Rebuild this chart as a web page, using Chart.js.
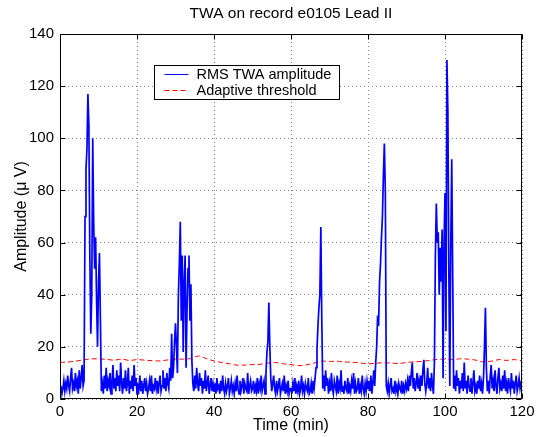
<!DOCTYPE html>
<html>
<head>
<meta charset="utf-8">
<title>TWA e0105</title>
<script src="https://cdn.jsdelivr.net/npm/chart.js@4.4.1/dist/chart.umd.min.js"></script>
<style>
  html, body { margin: 0; padding: 0; background: #fff; }
  canvas { display: block; }
</style>
</head>
<body>
<canvas id="twa" width="542" height="437"></canvas>
<script>
// RMS TWA amplitude, one sample every 0.25 min (one row = 5 min)
const sampleStep = 0.25;
const rmsTwa = [
  3, 5, 2, 4, 7, 3, 6, 4, 9, 5, 3, 8, 12, 4, 6, 3, 10, 5, 7, 2,
  11, 4, 8, 13, 5, 7, 70, 88, 96, 117, 105, 55, 25, 40, 100, 68, 50, 62, 38, 20,
  45, 56, 30, 3, 6, 2, 9, 4, 12, 3, 7, 5, 10, 2, 6, 13, 4, 8, 3, 11,
  5, 9, 3, 14, 6, 2, 8, 4, 11, 3, 6, 12, 2, 7, 4, 9, 3, 13, 5, 8,
  2, 6, 4, 9, 3, 7, 2, 5, 8, 3, 6, 2, 4, 7, 3, 9, 2, 5, 4, 8,
  4, 7, 2, 6, 9, 3, 5, 11, 4, 8, 3, 10, 6, 4, 12, 7, 25, 8, 12, 22,
  29, 20, 10, 40, 52, 68, 30, 55, 18, 45, 55, 12, 35, 50, 55, 30, 44, 15, 6, 3,
  9, 4, 12, 6, 3, 10, 5, 8, 2, 7, 4, 11, 3, 6, 9, 2, 5, 8, 3, 6,
  3, 6, 2, 8, 4, 5, 2, 7, 3, 9, 4, 2, 6, 3, 5, 8, 2, 4, 7, 3,
  5, 2, 6, 3, 9, 4, 2, 7, 3, 5, 8, 2, 6, 4, 3, 10, 2, 5, 7, 3,
  4, 7, 2, 5, 3, 8, 2, 6, 4, 9, 3, 5, 7, 2, 10, 18, 22, 37, 20, 8,
  3, 6, 9, 4, 2, 7, 3, 5, 8, 2, 4, 6, 3, 9, 2, 5, 3, 7, 2, 4,
  4, 2, 6, 3, 8, 2, 5, 3, 7, 2, 4, 9, 3, 5, 2, 6, 4, 3, 8, 2,
  3, 6, 2, 7, 4, 8, 12, 19, 28, 35, 40, 66, 30, 4, 9, 3, 11, 5, 8, 2,
  6, 3, 10, 4, 2, 7, 5, 3, 9, 2, 6, 4, 11, 3, 5, 2, 7, 4, 3, 8,
  2, 5, 3, 7, 4, 10, 2, 6, 3, 4, 8, 2, 5, 3, 9, 4, 2, 6, 3, 7,
  4, 7, 3, 9, 2, 6, 11, 5, 14, 20, 32, 28, 45, 52, 62, 70, 86, 98, 80, 5,
  3, 6, 2, 5, 8, 3, 4, 2, 7, 3, 5, 2, 6, 4, 3, 7, 2, 5, 3, 6,
  4, 7, 3, 9, 5, 10, 14, 4, 8, 3, 6, 10, 4, 7, 3, 9, 5, 11, 15, 6,
  3, 6, 12, 4, 8, 3, 10, 5, 2, 14, 55, 75, 60, 64, 40, 58, 45, 65, 8, 60,
  79, 26, 130, 110, 48, 5, 60, 92, 48, 4, 9, 3, 11, 5, 8, 2, 7, 4, 10, 3,
  14, 4, 7, 2, 9, 5, 3, 8, 2, 6, 11, 3, 5, 2, 7, 4, 9, 3, 6, 2,
  8, 20, 35, 12, 3, 7, 2, 9, 13, 4, 7, 3, 11, 5, 2, 8, 12, 4, 6, 3,
  9, 4, 11, 3, 6, 2, 8, 5, 3, 10, 4, 7, 2, 6, 9, 3, 5, 8, 4, 6,
  5
];

// adaptive threshold, every 2 min
const thrStep = 2;
const threshold = [
  14, 14.2, 14.5, 15, 15.4, 15.4, 15.2, 14.9, 15.3, 14.8,
  15.1, 14.9, 14.7, 14.6, 15, 15.3, 15.3, 15.5, 16.5, 15.5,
  14.6, 14, 13.5, 13, 13, 13.2, 13.3, 13.8, 14, 13.5,
  13.2, 12.8, 13.1, 13.8, 14.5, 14.4, 14.5, 14.2, 14.1, 13.8,
  13.5, 13.7, 13.9, 13.8, 13.6, 14, 14.3, 14.4, 14.8, 15.2,
  15.3, 15.2, 15.4, 15.3, 14.9, 14.2, 14.5, 15.1, 14.8, 15.1,
  14.6
];

const xTicks = [0, 20, 40, 60, 80, 100, 120];
const yTicks = [0, 20, 40, 60, 80, 100, 120, 140];

const twaPts = rmsTwa.map((v, i) => ({ x: i * sampleStep, y: v }));
const thrPts = threshold.map((v, i) => ({ x: i * thrStep, y: v }));

const fontFam = '"Liberation Sans", Arial, Helvetica, sans-serif';
Chart.defaults.font.family = fontFam;
Chart.defaults.font.size = 15;
Chart.defaults.color = '#000';

// box round the axes + matlab style inward ticks
const frame = {
  id: 'frame',
  afterDraw(chart) {
    const { ctx, chartArea: a, scales } = chart;
    const len = 5;
    const l = Math.round(a.left) + 0.5, r = Math.round(a.right) - 0.5;
    const t = Math.round(a.top) + 0.5, b = Math.round(a.bottom) - 0.5;
    ctx.save();
    ctx.strokeStyle = '#000';
    ctx.lineWidth = 1;
    ctx.beginPath();
    xTicks.forEach(v => {
      const px = Math.round(scales.x.getPixelForValue(v)) + 0.5;
      ctx.moveTo(px, b); ctx.lineTo(px, b - len);
      ctx.moveTo(px, t); ctx.lineTo(px, t + len);
    });
    yTicks.forEach(v => {
      const py = Math.round(scales.y.getPixelForValue(v)) + 0.5;
      ctx.moveTo(l, py); ctx.lineTo(l + len, py);
      ctx.moveTo(r, py); ctx.lineTo(r - len, py);
    });
    ctx.rect(l, t, r - l, b - t);
    ctx.stroke();
    ctx.restore();
  }
};

// legend box inside the plot
const boxLegend = {
  id: 'boxLegend',
  afterDatasetsDraw(chart) {
    const { ctx, chartArea: a } = chart;
    const left = Math.round(a.left) + 94.5, top = Math.round(a.top) + 31.5;
    const w = 185, h = 34;
    ctx.save();
    ctx.fillStyle = '#fff';
    ctx.fillRect(left, top, w, h);
    ctx.strokeStyle = '#000';
    ctx.lineWidth = 1;
    ctx.strokeRect(left, top, w, h);
    ctx.font = '14.5px ' + fontFam;
    ctx.textBaseline = 'middle';
    chart.data.datasets.forEach((ds, i) => {
      const cy = top + 9 + i * 16;
      ctx.strokeStyle = ds.borderColor;
      ctx.lineWidth = 1;
      ctx.setLineDash(ds.borderDash || []);
      ctx.beginPath();
      ctx.moveTo(left + 10, cy);
      ctx.lineTo(left + 34, cy);
      ctx.stroke();
      ctx.setLineDash([]);
      ctx.fillStyle = '#000';
      ctx.fillText(ds.label, left + 42, cy + 0.5);
    });
    ctx.restore();
  }
};

new Chart(document.getElementById('twa'), {
  type: 'line',
  data: {
    datasets: [{
      label: 'RMS TWA amplitude',
      data: twaPts,
      borderColor: '#0000ff',
      borderWidth: 1.7,
      pointRadius: 0,
      tension: 0
    }, {
      label: 'Adaptive threshold',
      data: thrPts,
      borderColor: '#ff0000',
      borderWidth: 1,
      borderDash: [5, 3],
      pointRadius: 0,
      tension: 0.3
    }]
  },
  options: {
    responsive: false,
    animation: false,
    layout: { padding: { left: 0, right: 20, top: 0, bottom: 0 } },
    plugins: {
      legend: { display: false },
      tooltip: { enabled: false },
      title: {
        display: true,
        text: 'TWA on record e0105 Lead II',
        fullSize: false,
        font: { size: 15.5, weight: 'normal' },
        color: '#000',
        padding: { top: 4.7, bottom: 10.7 }
      }
    },
    scales: {
      x: {
        type: 'linear',
        min: 0,
        max: 120,
        afterFit: s => { s.height = 38; },
        afterBuildTicks: s => { s.ticks = xTicks.map(v => ({ value: v })); },
        ticks: { padding: 4, maxRotation: 0 },
        grid: { color: '#808080', drawTicks: false },
        border: { display: false, dash: [1, 3] },
        title: { display: true, text: 'Time (min)', font: { size: 16 }, padding: { top: 0, bottom: 1.5 } }
      },
      y: {
        min: 0,
        max: 140,
        afterFit: s => { s.width = 60; },
        afterBuildTicks: s => { s.ticks = yTicks.map(v => ({ value: v })); },
        ticks: { padding: 6 },
        grid: { color: '#808080', drawTicks: false },
        border: { display: false, dash: [1, 3] },
        title: { display: true, text: 'Amplitude (\u03bc V)', font: { size: 16 }, padding: { top: 12.4, bottom: 0 } }
      }
    }
  },
  plugins: [boxLegend, frame]
});
</script>
</body>
</html>
